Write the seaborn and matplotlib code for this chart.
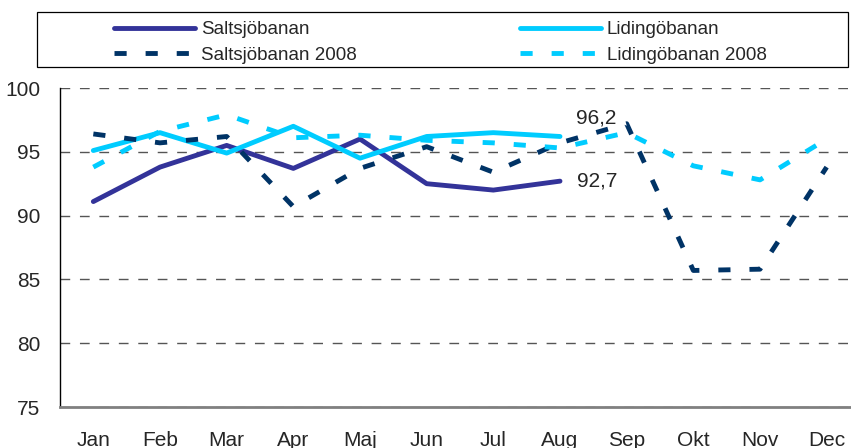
import numpy as np
import matplotlib
matplotlib.use('Agg')
import matplotlib.pyplot as plt
import matplotlib.patches as patches
import seaborn as sns

months = ['Jan', 'Feb', 'Mar', 'Apr', 'Maj', 'Jun', 'Jul', 'Aug', 'Sep', 'Okt', 'Nov', 'Dec']

saltsjo = [91.1, 93.8, 95.5, 93.7, 96.0, 92.5, 92.0, 92.7]
lidingo = [95.1, 96.5, 94.9, 97.0, 94.5, 96.2, 96.5, 96.2]
saltsjo_2008 = [96.4, 95.7, 96.2, 90.7, 93.7, 95.4, 93.4, 95.7, 97.2, 85.7, 85.8, 93.8]
lidingo_2008 = [93.8, 96.6, 97.9, 96.1, 96.3, 95.9, 95.7, 95.3, 96.5, 93.9, 92.8, 96.0]

sns.set_style('white')
plt.rcParams['font.family'] = ['Liberation Sans', 'DejaVu Sans']

fig = plt.figure(figsize=(8.51, 4.48), dpi=100)
W, H = 851, 448
ax = fig.add_axes([60 / W, (H - 407) / H, 800 / W, 319 / H])

lw = 3.5
dash = (0, (2.5, 3.9))

sns.lineplot(x=np.arange(len(saltsjo)), y=saltsjo, ax=ax, color='#333399',
             lw=lw, solid_capstyle='round', solid_joinstyle='round', label='Saltsjöbanan')
sns.lineplot(x=np.arange(len(lidingo)), y=lidingo, ax=ax, color='#00CCFF',
             lw=lw, solid_capstyle='round', solid_joinstyle='round', label='Lidingöbanan')
sns.lineplot(x=np.arange(len(saltsjo_2008)), y=saltsjo_2008, ax=ax, color='#003366',
             lw=lw, linestyle=dash, label='Saltsjöbanan 2008')
sns.lineplot(x=np.arange(len(lidingo_2008)), y=lidingo_2008, ax=ax, color='#00CCFF',
             lw=lw, linestyle=dash, label='Lidingöbanan 2008')

# data labels on last points
last = len(lidingo) - 1
ax.annotate('96,2', (last, lidingo[-1]), xytext=(16, 18), textcoords='offset pixels',
            fontsize=15, va='center', ha='left')
ax.annotate('92,7', (last, saltsjo[-1]), xytext=(17, 0), textcoords='offset pixels',
            fontsize=15, va='center', ha='left')

ax.set_xlim(-0.5, 11.5)
ax.set_ylim(75, 100)
ax.set_yticks([75, 80, 85, 90, 95, 100])
ax.set_xticks(range(12))
ax.set_xticklabels(months)
ax.set_xticks(np.arange(-0.5, 12, 1), minor=True)
ax.tick_params(axis='x', which='major', length=0, pad=17, labelsize=15)
ax.tick_params(axis='x', which='minor', length=6, width=1.2, color='#808080', direction='out')
ax.tick_params(axis='y', length=6, width=1, color='black', direction='out', pad=8, labelsize=15)

ax.yaxis.grid(True, linestyle=(0, (7, 7)), color='#555555', lw=1)
ax.xaxis.grid(False)
ax.set_axisbelow(True)
for s in ['top', 'right']:
    ax.spines[s].set_visible(False)
ax.spines['left'].set_color('black')
ax.spines['left'].set_linewidth(1)
ax.spines['bottom'].set_color('#808080')
ax.spines['bottom'].set_linewidth(2)

handles, labels = ax.get_legend_handles_labels()
ax.get_legend().remove()

leg_kw = dict(frameon=False, fontsize=13.5, handlelength=4.3, handletextpad=0.32,
              labelspacing=0.45, borderpad=0, borderaxespad=0, loc='center left')
fig.legend([handles[0], handles[2]], [labels[0], labels[2]],
           bbox_to_anchor=(114 / W, 1 - 42.5 / H), **leg_kw)
fig.legend([handles[1], handles[3]], [labels[1], labels[3]],
           bbox_to_anchor=(520 / W, 1 - 42.5 / H), **leg_kw)
fig.add_artist(patches.Rectangle((37 / W, 1 - 67 / H), 811 / W, 55 / H, fill=False,
                                 edgecolor='black', lw=0.9, transform=fig.transFigure))

fig.savefig('out.png', dpi=100)
